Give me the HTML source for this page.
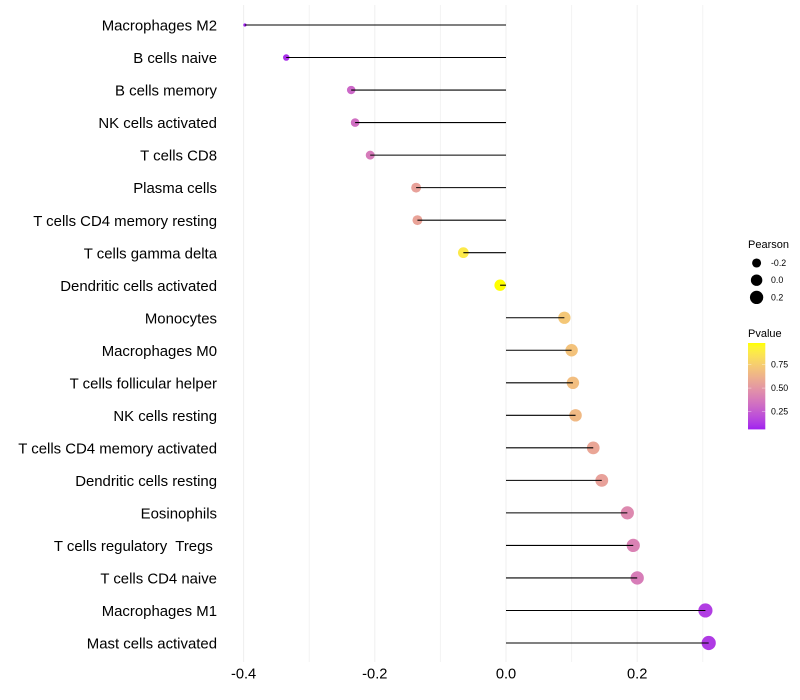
<!DOCTYPE html>
<html lang="en">
<head>
<meta charset="utf-8">
<title>Immune cell correlation lollipop chart</title>
<style>
html,body{margin:0;padding:0;background:#fff;width:800px;height:700px;overflow:hidden}
svg{display:block;font-family:"Liberation Sans",Arial,sans-serif}
</style>
</head>
<body>
<svg id="chart" width="800" height="700" viewBox="0 0 800 700">
  <defs>
    <linearGradient id="pvalue-gradient" x1="0" y1="1" x2="0" y2="0"></linearGradient>
  </defs>
  <g id="grid"></g>
  <g id="points"></g>
  <g id="segments"></g>
  <g id="ylabels"></g>
  <g id="xlabels"></g>
  <g id="size-legend">
    <text x="748" y="248" font-size="11" fill="#000">Pearson</text>
  </g>
  <g id="color-legend">
    <text x="748" y="337" font-size="11" fill="#000">Pvalue</text>
    <rect x="748" y="343" width="17.3" height="86.4" fill="url(#pvalue-gradient)"></rect>
  </g>
</svg>
<script>
const categories = ["Macrophages M2","B cells naive","B cells memory","NK cells activated","T cells CD8","Plasma cells","T cells CD4 memory resting","T cells gamma delta","Dendritic cells activated","Monocytes","Macrophages M0","T cells follicular helper","NK cells resting","T cells CD4 memory activated","Dendritic cells resting","Eosinophils","T cells regulatory  Tregs ","T cells CD4 naive","Macrophages M1","Mast cells activated"];
const pearson = [-0.398,-0.335,-0.236,-0.230,-0.207,-0.137,-0.135,-0.065,-0.009,0.089,0.100,0.102,0.106,0.133,0.146,0.185,0.194,0.200,0.304,0.309];
const pvalue = [0.06,0.10,0.30,0.33,0.38,0.55,0.56,0.88,0.98,0.72,0.70,0.68,0.66,0.57,0.55,0.44,0.41,0.39,0.14,0.13];
const xMajorTicks = [-0.4,-0.2,0.0,0.2];
const xMinorTicks = [-0.3,-0.1,0.1,0.3];
const pearsonLegend = [-0.2,0.0,0.2];
const pvalueLegend = [0.75,0.50,0.25];

const NS = "http://www.w3.org/2000/svg";
const x = v => 506 + 656 * v;
const y = i => 25 + i * (618 / 19);
const minP = Math.min(...pearson), maxP = Math.max(...pearson);
const minV = Math.min(...pvalue), maxV = Math.max(...pvalue);
const radius = v => 1.6 + 5.5 * Math.sqrt(Math.max(0, (v - minP) / (maxP - minP)));
const barY = p => 429.4 - (p - minV) / (maxV - minV) * 86.4;

function rgb2lab(c){
  const l = c.map(u => { u /= 255; return u > 0.04045 ? Math.pow((u + 0.055) / 1.055, 2.4) : u / 12.92; });
  const X = (0.4124 * l[0] + 0.3576 * l[1] + 0.1805 * l[2]) / 0.95047;
  const Y = 0.2126 * l[0] + 0.7152 * l[1] + 0.0722 * l[2];
  const Z = (0.0193 * l[0] + 0.1192 * l[1] + 0.9505 * l[2]) / 1.08883;
  const f = t => t > 0.008856 ? Math.cbrt(t) : 7.787 * t + 16 / 116;
  return [116 * f(Y) - 16, 500 * (f(X) - f(Y)), 200 * (f(Y) - f(Z))];
}
function lab2rgb(c){
  const fy = (c[0] + 16) / 116, fx = c[1] / 500 + fy, fz = fy - c[2] / 200;
  const g = t => t * t * t > 0.008856 ? t * t * t : (t - 16 / 116) / 7.787;
  const X = g(fx) * 0.95047, Y = g(fy), Z = g(fz) * 1.08883;
  const lin = [3.2406 * X - 1.5372 * Y - 0.4986 * Z, -0.9689 * X + 1.8758 * Y + 0.0415 * Z, 0.0557 * X - 0.204 * Y + 1.057 * Z];
  return lin.map(u => {
    u = Math.max(0, Math.min(1, u));
    u = u > 0.0031308 ? 1.055 * Math.pow(u, 1 / 2.4) - 0.055 : 12.92 * u;
    return Math.round(u * 255);
  });
}
const labLow = rgb2lab([160, 32, 240]);
const labHigh = rgb2lab([255, 255, 0]);
function colorAt(t){
  const m = labLow.map((a, k) => a + (labHigh[k] - a) * t);
  return "rgb(" + lab2rgb(m).join(",") + ")";
}
const colorP = p => colorAt((p - minV) / (maxV - minV));

function make(parent, tag, attrs, text){
  const el = document.createElementNS(NS, tag);
  for (const k in attrs) el.setAttribute(k, attrs[k]);
  if (text !== undefined) el.textContent = text;
  document.getElementById(parent).appendChild(el);
  return el;
}

xMinorTicks.forEach(t => {
  const el = make("grid", "line", {x1: x(t), x2: x(t), y1: 5, y2: 662, stroke: "#f3f3f3", "stroke-width": 1});
  
  
});
xMajorTicks.forEach(t => {
  const el = make("grid", "line", {x1: x(t), x2: x(t), y1: 5, y2: 662, stroke: "#f0f0f0", "stroke-width": 1.1});
  
  
  const lab = make("xlabels", "text", {x: x(t), y: 678.5, "font-size": 14.67, "text-anchor": "middle", fill: "#000"}, t.toFixed(1));
  
  
});

categories.forEach((name, i) => {
  const lab = make("ylabels", "text", {x: 217, y: y(i) + 5.6, "font-size": 14.93, "text-anchor": "end", fill: "#000", "xml:space": "preserve", style: "white-space:pre"}, name);
  
  
  const pt = make("points", "circle", {cx: x(pearson[i]), cy: y(i), r: radius(pearson[i]), fill: colorP(pvalue[i])});
  
  
  const seg = make("segments", "line", {x1: x(0), x2: x(pearson[i]), y1: y(i), y2: y(i), stroke: "#000", "stroke-width": 1.07});
  
  
});

pearsonLegend.forEach((v, i) => {
  const cy = 263 + i * 17.2;
  const dot = make("size-legend", "circle", {cx: 756.6, cy: cy, r: radius(v), fill: "#000"});
  
  
  const lab = make("size-legend", "text", {x: 771, y: cy + 3, "font-size": 8.8, fill: "#000"}, v.toFixed(1));
  
  
});

const grad = document.getElementById("pvalue-gradient");
for (let s = 0; s <= 20; s++) {
  const stop = document.createElementNS(NS, "stop");
  stop.setAttribute("offset", (s * 5) + "%");
  stop.setAttribute("stop-color", colorAt(s / 20));
  grad.appendChild(stop);
}

pvalueLegend.forEach(p => {
  const ty = barY(p);
  const t1 = make("color-legend", "line", {x1: 748, x2: 751.4, y1: ty, y2: ty, stroke: "#fff", "stroke-opacity": 0.6, "stroke-width": 0.6});
  
  
  const t2 = make("color-legend", "line", {x1: 761.9, x2: 765.3, y1: ty, y2: ty, stroke: "#fff", "stroke-opacity": 0.6, "stroke-width": 0.6});
  
  
  const lab = make("color-legend", "text", {x: 771, y: ty + 3, "font-size": 8.8, fill: "#000"}, p.toFixed(2));
  
  
});
</script>
</body>
</html>
